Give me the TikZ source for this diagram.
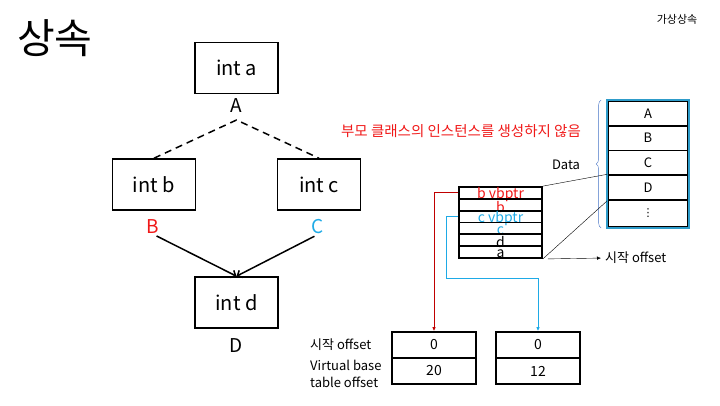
\documentclass[tikz,border=0pt]{standalone}
\usepackage{fontspec}
\setmainfont{Noto Sans CJK KR}
\newfontfamily\symfont{DejaVu Sans}
\usepackage{xcolor}
\usetikzlibrary{arrows.meta,positioning,decorations.pathreplacing}
\definecolor{Red}{HTML}{F01818}
\definecolor{DarkRed}{HTML}{C00000}
\definecolor{Sky}{HTML}{1EAAE6}
\definecolor{Frame}{HTML}{2E9CCA}
\definecolor{Brace}{HTML}{4472C4}
\newcommand{\fs}[1]{\fontsize{#1}{#1}\selectfont}

\begin{document}
\begin{tikzpicture}[
  x=1pt,y=-1pt,
  cls/.style={draw,line width=1.6pt,minimum width=83pt,minimum height=51pt,inner sep=0pt,font=\fs{20}},
  lbl/.style={inner sep=0pt,font=\fs{19}},
  cell/.style={draw,line width=1.8pt,minimum width=80pt,minimum height=24.75pt,inner sep=0pt,font=\fs{13}},
  slot/.style={draw,line width=1.8pt,minimum width=83pt,minimum height=11.83pt,inner sep=0pt},
  off/.style={draw,line width=1.6pt,minimum width=84pt,minimum height=26pt,inner sep=0pt,font=\fs{14}},
  txt/.style={inner sep=0pt,font=\fs{13}},
  virt/.style={line width=1.5pt,dash pattern=on 7pt off 5pt},
  inh/.style={-{Straight Barb[length=4pt]},line width=1.5pt},
  ptr/.style={-{Latex[length=4pt,width=3.5pt]},line width=0.9pt}
]
\useasboundingbox (0,0) rectangle (720,405);

% titles
\node[anchor=west,inner sep=0pt,font=\fs{41}] (title) at (17,38) {상속};
\node[txt,font=\fs{11}] (kind) at (677,19) {가상상속};

% class diagram
\node[cls] (a) at (236.5,68) {int a};
\node[lbl] (la) at (236.5,106) {A};
\node[cls] (b) at (154,184.5) {int b};
\node[lbl,text=Red] (lb) at (153,227) {B};
\node[cls] (c) at (319,184.5) {int c};
\node[lbl,text=Sky] (lc) at (318,227) {C};
\node[cls] (d) at (236.5,302.5) {int d};
\node[lbl] (ld) at (236.5,346) {D};
\coordinate (apex) at (236.5,120);
\draw[virt] (b.north) -- (apex) -- (c.north);
\draw[inh,shorten <=4pt] (lb.south) -- (d.north);
\draw[inh,shorten <=4pt] (lc.south) -- (d.north);

\node[txt,text=Red,font=\fs{14.5}] (note) at (461,131) {부모 클래스의 인스턴스를 생성하지 않음};

% data column
\foreach \t [count=\i] in {A,B,C,D}
  \node[cell] (r\i) at (648,{88.6+24.75*\i}) {\t};
\node[cell,minimum height=27pt,font=\symfont\fs{11}] (r5) at (648,213.5) {⋮};
\draw[draw=Frame,line width=2.5pt] (r1.north west) rectangle (r5.south east);
\draw[draw=Brace,decorate,decoration={brace,amplitude=5pt}]
  ([xshift=-6pt]r5.south west) -- ([xshift=-6pt]r1.north west);
\node[txt] (data) at (566,165) {Data};

% object layout
\foreach \t/\c [count=\i] in {b vbptr/Red,b/Red,c vbptr/Sky,c/Sky,d/black,a/black}{
  \node[slot] (s\i) at (500.5,{181.1+11.83*\i}) {};
  \node[txt,font=\fs{14},text=\c] (st\i) at ([yshift=-1.8pt]s\i.center) {\t};
}
\draw[thin] (s1.north east) -- (r4.north west);
\draw[thin] (s6.south east) -- (r4.south west);
\node[txt,anchor=west] (start) at (605,258) {시작 offset};
\draw[-{Latex[length=4pt,width=3.5pt]},thin,shorten >=4pt] ([xshift=5pt]s6.south east) -- (start.west);

% vbtables
\node[off] (o1) at (434,345) {0};
\node[off] (t1) at (434,371) {20};
\node[off] (o2) at (538,345) {0};
\node[off] (t2) at (538,371) {12};
\node[txt,anchor=west] (ostart) at (310,345) {시작 offset};
\node[txt,anchor=west,align=left,font=\fontsize{13}{17}\selectfont] (obase) at (310,374) {Virtual base\\table offset};

\coordinate (bend) at (446,278);
\draw[ptr,draw=DarkRed] (s1.west) -| (o1.north);
\draw[ptr,draw=Sky] (s3.west) -| (bend) -| (o2.north);
\end{tikzpicture}
\end{document}
